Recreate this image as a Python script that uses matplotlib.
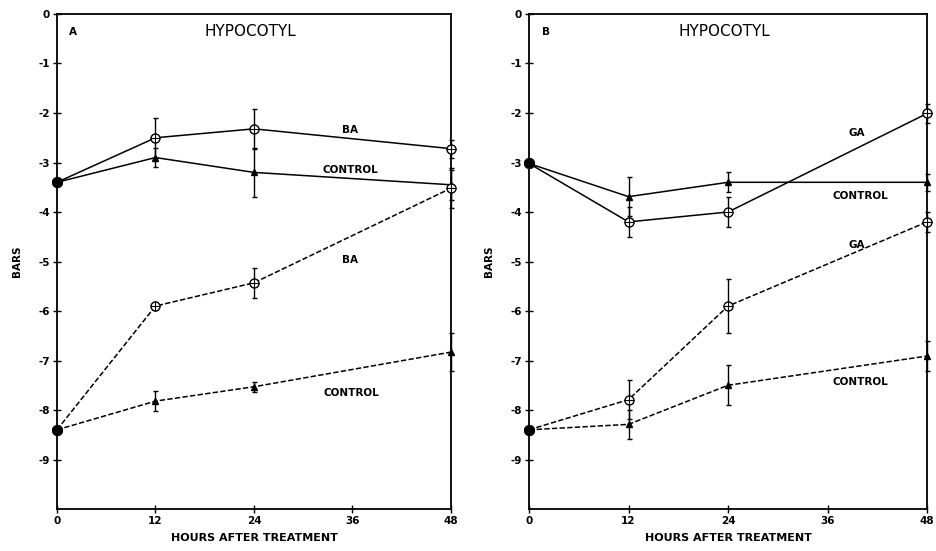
import numpy as np
import matplotlib.pyplot as plt

hours = [0, 12, 24, 48]

# panel A - benzyladenine
a_ba_solid = [-3.4, -2.5, -2.32, -2.72]
a_ba_solid_err = [0, 0.4, 0.4, 0.18]
a_ctl_solid = [-3.4, -2.9, -3.2, -3.45]
a_ctl_solid_err = [0, 0.2, 0.5, 0.3]
a_ba_dash = [-8.4, -5.9, -5.43, -3.52]
a_ba_dash_err = [0, 0.08, 0.3, 0.4]
a_ctl_dash = [-8.4, -7.82, -7.53, -6.83]
a_ctl_dash_err = [0, 0.2, 0.1, 0.38]

# panel B - gibberellic acid
b_ga_solid = [-3.02, -4.2, -4.0, -2.01]
b_ga_solid_err = [0, 0.3, 0.3, 0.19]
b_ctl_solid = [-3.02, -3.69, -3.4, -3.4]
b_ctl_solid_err = [0, 0.4, 0.2, 0.17]
b_ga_dash = [-8.4, -7.79, -5.9, -4.2]
b_ga_dash_err = [0, 0.4, 0.55, 0.2]
b_ctl_dash = [-8.4, -8.29, -7.5, -6.91]
b_ctl_dash_err = [0, 0.3, 0.4, 0.3]

x_ticks = [0, 12, 24, 36, 48]
y_ticks = [0, -1, -2, -3, -4, -5, -6, -7, -8, -9]

FONT = dict(fontfamily="DejaVu Sans", fontweight="bold", fontsize=7.5)
DASH = (0, (3.5, 1.5))


def draw_series(ax, y, err, ls, kind):
    ax.errorbar(hours, y, yerr=err, color="black", lw=1.1, ls=ls,
                elinewidth=1.0, capsize=1.8, capthick=1.0, zorder=2)
    if kind == "treat":
        ax.plot(hours[1:], y[1:], ls="none", marker="o", ms=6.5, mfc="white",
                mec="black", mew=1.0, zorder=3)
        ax.plot(hours[1:], y[1:], ls="none", marker="+", ms=6.5, mec="black",
                mew=0.8, zorder=4)
    else:
        ax.plot(hours[1:], y[1:], ls="none", marker="^", ms=4.5, color="black",
                zorder=3)
    ax.plot(hours[0], y[0], ls="none", marker="o", ms=7, color="black", zorder=5)


def setup_axes(ax, letter):
    ax.set_xlim(0, 48)
    ax.set_ylim(-10, 0)
    ax.set_xticks(x_ticks)
    ax.set_yticks(y_ticks)
    ax.set_xticklabels([str(t) for t in x_ticks], **FONT)
    ax.set_yticklabels(["0"] + ["-" + str(-t) for t in y_ticks[1:]], **FONT)
    ax.tick_params(direction="inout", length=6, width=1.0, pad=2)
    for s in ax.spines.values():
        s.set_linewidth(1.3)
    ax.set_xlabel("HOURS AFTER TREATMENT", fontfamily="DejaVu Sans",
                  fontweight="bold", fontsize=8, labelpad=5)
    ax.set_ylabel("BARS", fontfamily="DejaVu Sans", fontweight="bold",
                  fontsize=7.5, labelpad=12)
    ax.text(23.6, -0.36, "HYPOCOTYL", ha="center", va="center",
            fontfamily="DejaVu Sans", fontsize=11)
    ax.text(2.0, -0.36, letter, ha="center", va="center", **FONT)


fig = plt.figure(figsize=(9.37, 5.51), dpi=100)
ax1 = fig.add_axes([0.0608, 0.0762, 0.4205, 0.8984])
ax2 = fig.add_axes([0.5646, 0.0762, 0.4248, 0.8984])

setup_axes(ax1, "A")
draw_series(ax1, a_ba_solid, a_ba_solid_err, "-", "treat")
draw_series(ax1, a_ctl_solid, a_ctl_solid_err, "-", "ctl")
draw_series(ax1, a_ba_dash, a_ba_dash_err, DASH, "treat")
draw_series(ax1, a_ctl_dash, a_ctl_dash_err, DASH, "ctl")
ax1.text(35.7, -2.34, "BA", ha="center", va="center", **FONT)
ax1.text(35.7, -3.16, "CONTROL", ha="center", va="center", **FONT)
ax1.text(35.7, -4.96, "BA", ha="center", va="center", **FONT)
ax1.text(35.9, -7.66, "CONTROL", ha="center", va="center", **FONT)

setup_axes(ax2, "B")
draw_series(ax2, b_ga_solid, b_ga_solid_err, "-", "treat")
draw_series(ax2, b_ctl_solid, b_ctl_solid_err, "-", "ctl")
draw_series(ax2, b_ga_dash, b_ga_dash_err, DASH, "treat")
draw_series(ax2, b_ctl_dash, b_ctl_dash_err, DASH, "ctl")
ax2.text(39.5, -2.4, "GA", ha="center", va="center", **FONT)
ax2.text(39.9, -3.68, "CONTROL", ha="center", va="center", **FONT)
ax2.text(39.5, -4.67, "GA", ha="center", va="center", **FONT)
ax2.text(39.9, -7.43, "CONTROL", ha="center", va="center", **FONT)

for ax in (ax1, ax2):
    for a in ax.get_children():
        if hasattr(a, "set_clip_on"):
            a.set_clip_on(False)

fig.savefig("out.png", dpi=100)
